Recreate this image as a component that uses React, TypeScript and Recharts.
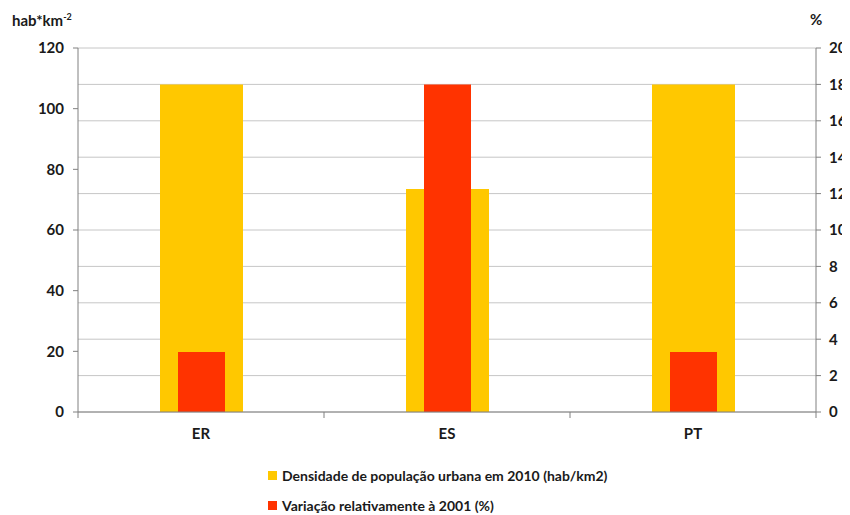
import { Bar, BarChart, CartesianGrid, Legend, XAxis, YAxis } from 'recharts'

const regions = ['ER', 'ES', 'PT']
const density2010 = [108, 73.5, 108]
const change2001 = [3.3, 18, 3.3]
const leftTicks = [0, 20, 40, 60, 80, 100, 120]
const rightTicks = [0, 2, 4, 6, 8, 10, 12, 14, 16, 18, 20]

const DENSITY_NAME = 'Densidade de população urbana em 2010 (hab/km2)'
const CHANGE_NAME = 'Variação relativamente à 2001 (%)'

const YELLOW = '#ffc800'
const RED = '#ff3300'
const AXIS = '#808080'
const TEXT = '#1a1a1a'
const FONT = 'Lato, "Open Sans", sans-serif'
const X_TICK_SIZE = 6
const X_TICK_MARGIN = 10

const data = regions.map((region, i) => ({
  region,
  density: density2010[i],
  change: change2001[i],
}))

const tickStyle = { fill: TEXT, fontSize: 15, fontWeight: 700, fontFamily: FONT }

// category label at the band centre, tick marks on the band edges (Excel style)
const RegionTick = ({ x, y, payload }: any) => {
  const half = payload.offset || 0
  const y0 = y - X_TICK_SIZE - X_TICK_MARGIN
  const edges = payload.index === regions.length - 1 ? [x - half, x + half] : [x - half]
  return (
    <g>
      {edges.map((ex) => (
        <line key={ex} x1={ex} x2={ex} y1={y0} y2={y0 + X_TICK_SIZE} stroke={AXIS} />
      ))}
      <text x={x} y={y} dy="0.71em" textAnchor="middle" {...tickStyle}>
        {payload.value}
      </text>
    </g>
  )
}

const LeftUnit = ({ viewBox }: any) => (
  <text x={viewBox.x + 4} y={viewBox.y - 22} fill={TEXT} fontSize={15} fontWeight={700} fontFamily={FONT}>
    hab*km
    <tspan dy={-6} fontSize={9}>
      -2
    </tspan>
  </text>
)

const RightUnit = ({ viewBox }: any) => (
  <text x={viewBox.x - 6} y={viewBox.y - 23} fill={TEXT} fontSize={15} fontWeight={700} fontFamily={FONT}>
    %
  </text>
)

const LegendRows = ({ payload }: any) => (
  <div style={{ fontFamily: FONT, fontWeight: 700, fontSize: 14, color: TEXT, height: 46, paddingLeft: 260 }}>
    {(payload || []).map((item: any, i: number) => (
      <div
        key={item.value}
        style={{ display: 'flex', alignItems: 'center', height: 16, marginTop: i === 0 ? 0 : 14 }}
      >
        <span style={{ width: 9, height: 9, background: item.color, marginRight: 5, display: 'inline-block' }} />
        {item.value}
      </div>
    ))}
  </div>
)

export default function App() {
  return (
    <BarChart width={842} height={507} data={data} margin={{ top: 40, right: 0, left: 0, bottom: 27 }}>
      <CartesianGrid yAxisId="right" vertical={false} stroke="#c6c6c6" />
      <XAxis
        xAxisId="main"
        dataKey="region"
        height={30}
        tickLine={false}
        tickSize={X_TICK_SIZE}
        tickMargin={X_TICK_MARGIN}
        axisLine={{ stroke: AXIS }}
        tick={RegionTick}
        interval={0}
      />
      <XAxis xAxisId="over" dataKey="region" hide />
      <YAxis
        yAxisId="left"
        width={70}
        domain={[0, 120]}
        ticks={leftTicks}
        interval={0}
        tick={tickStyle}
        tickSize={5}
        tickMargin={9}
        axisLine={{ stroke: AXIS }}
        tickLine={{ stroke: AXIS }}
        label={{ content: LeftUnit }}
      />
      <YAxis
        yAxisId="right"
        orientation="right"
        width={34}
        domain={[0, 20]}
        ticks={rightTicks}
        interval={0}
        tick={tickStyle}
        tickSize={5}
        tickMargin={8}
        axisLine={{ stroke: AXIS }}
        tickLine={{ stroke: AXIS }}
        label={{ content: RightUnit }}
      />
      <Legend
        layout="horizontal"
        verticalAlign="bottom"
        align="left"
        content={LegendRows}
        wrapperStyle={{ bottom: 2 }}
      />
      <Bar
        xAxisId="main"
        yAxisId="left"
        dataKey="density"
        name={DENSITY_NAME}
        fill={YELLOW}
        barSize={83}
        isAnimationActive={false}
      />
      <Bar
        xAxisId="over"
        yAxisId="right"
        dataKey="change"
        name={CHANGE_NAME}
        fill={RED}
        barSize={47}
        isAnimationActive={false}
      />
    </BarChart>
  )
}
